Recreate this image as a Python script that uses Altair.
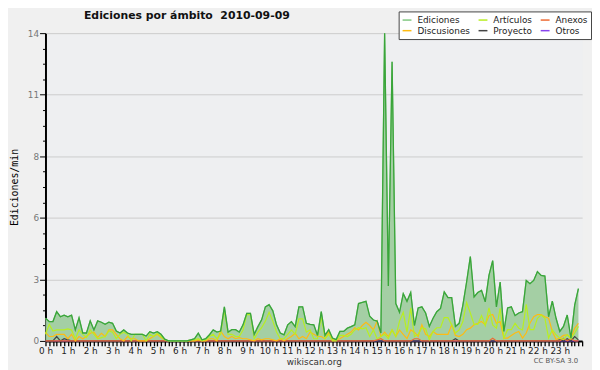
import altair as alt
import pandas as pd

# 10-minute samples, 144 per day
EDICIONES = [
    1.03, 0.88, 0.88, 1.33, 1.1, 1.17, 1.1, 1.17, 0.5, 1.05, 0.36, 0.36,
    0.91, 0.5, 0.91, 0.85, 0.76, 0.85, 0.8, 0.45, 0.36, 0.5, 0.36, 0.3,
    0.3, 0.3, 0.3, 0.22, 0.42, 0.36, 0.42, 0.3, 0.08, 0, 0, 0,
    0, 0, 0, 0.05, 0.1, 0.35, 0.05, 0.1, 0.28, 0.5, 0.4, 0.45,
    1.55, 0.4, 0.51, 0.51, 0.4, 0.73, 1.25, 1.25, 0.3, 0.65, 0.96, 1.55,
    1.65, 1.37, 0.73, 0.36, 0.28, 0.73, 0.88, 0.65, 1.55, 1.55, 0.8, 0.75,
    0.73, 0.25, 1.33, 0.25, 0.51, 0.13, 0.06, 0.43, 0.43, 0.58, 0.65, 0.73,
    1.7, 1.75, 1.8, 1.12, 0.95, 0.9, 0.36, 14.0, 2.5, 12.7, 1.7, 1.3,
    2.15, 1.8, 2.2, 0.7, 1.5, 1.55, 1.27, 0.66, 1.03, 1.33, 1.48, 2.23,
    1.97, 1.97, 0.66, 0.8, 1.63, 2.68, 3.84, 2.0, 2.2, 2.3, 1.78, 2.98,
    3.65, 1.55, 2.68, 0.43, 1.5, 1.55, 1.15, 1.27, 1.33, 2.75, 2.6, 2.75,
    3.15, 2.98, 2.95, 1.1, 1.81, 1.03, 0.43, 0.66, 1.18, 0.13, 1.63, 2.38,
]
ARTICULOS = [
    0.3, 0.75, 0.45, 0.5, 0.5, 0.5, 0.55, 0.5, 0.1, 0.5, 0.3, 0.15,
    0.5, 0.3, 0.1, 0.15, 0.2, 0.45, 0.4, 0.1, 0.3, 0.4, 0.3, 0.0,
    0.3, 0.3, 0.3, 0.0, 0.3, 0.2, 0.35, 0.2, 0.05, 0, 0, 0,
    0, 0, 0, 0.05, 0.05, 0.1, 0.0, 0.05, 0.2, 0.3, 0.1, 0.3,
    1.4, 0.3, 0.3, 0.2, 0.2, 0.5, 1.2, 1.2, 0.1, 0.4, 0.6, 0.9,
    1.3, 0.9, 0.4, 0.1, 0.1, 0.3, 0.5, 0.3, 1.0, 1.0, 0.4, 0.5,
    0.1, 0.1, 1.1, 0.1, 0.3, 0.0, 0.0, 0.25, 0.25, 0.2, 0.3, 0.5,
    0.6, 0.55, 0.6, 0.2, 0.5, 0.1, 0.2, 0.3, 0.1, 0.5, 0.2, 0.9,
    1.3, 0.4, 1.5, 0.2, 0.3, 0.6, 0.55, 0.06, 0.43, 0.6, 0.6, 1.06,
    1.06, 0.73, 0.36, 0.5, 0.88, 1.75, 1.27, 0.75, 0.75, 1.15, 0.7, 1.5,
    0.73, 0.58, 1.48, 0.13, 0.51, 0.51, 0.8, 0.58, 0.5, 1.66, 0.51, 0.51,
    1.03, 1.18, 1.03, 0.13, 0.51, 0.28, 0.13, 0.06, 0.28, 0.1, 0.36, 0.66,
]
DISCUSIONES = [
    0.4, 0.2, 0.2, 0.3, 0.3, 0.3, 0.1, 0.3, 0.0, 0.2, 0.1, 0.2,
    0.35, 0.4, 0.15, 0.35, 0.2, 0.5, 0.5, 0.3, 0.1, 0.0, 0.2, 0.1,
    0.1, 0.0, 0.0, 0.0, 0.1, 0.2, 0.3, 0.15, 0.05, 0, 0, 0,
    0, 0, 0, 0, 0, 0.05, 0, 0, 0.1, 0.1, 0, 0.45,
    0.2, 0.1, 0.2, 0.1, 0.15, 0.1, 0.1, 0.05, 0.0, 0.1, 0.05, 0.1,
    0.1, 0.05, 0.0, 0.1, 0.0, 0.1, 0.2, 0.35, 0.1, 0.2, 0.1, 0.4,
    0.3, 0.2, 0.2, 0.1, 0.4, 0.05, 0.05, 0.1, 0.2, 0.3, 0.4, 0.6,
    0.5, 0.7, 0.85, 0.7, 0.5, 0.9, 0.2, 0.4, 0.2, 0.5, 0.2, 0.5,
    0.3, 0.1, 0.5, 0.4, 0.2, 0.73, 0.3, 0.2, 0.43, 0.3, 0.3, 0.3,
    0.3, 0.73, 0.25, 0.2, 0.3, 0.51, 0.58, 0.73, 0.8, 0.88, 0.73, 1.15,
    1.2, 0.8, 0.88, 0.13, 0.13, 0.25, 0.36, 0.43, 0.13, 0.36, 0.8, 1.1,
    1.2, 1.2, 1.1, 1.03, 0.43, 0.06, 0.13, 0.25, 0.28, 0.13, 0.58, 0.8,
]
ANEXOS = [
    0, 0, 0, 0, 0, 0, 0, 0, 0, 0, 0, 0,
    0, 0, 0, 0, 0, 0, 0, 0, 0, 0, 0, 0,
    0, 0, 0, 0, 0, 0, 0, 0, 0, 0, 0, 0,
    0, 0, 0, 0, 0, 0, 0, 0, 0, 0, 0, 0,
    0, 0, 0, 0, 0, 0, 0, 0, 0, 0, 0, 0,
    0, 0, 0, 0, 0, 0, 0, 0, 0, 0, 0, 0,
    0, 0, 0, 0, 0, 0, 0, 0, 0, 0, 0, 0,
    0, 0, 0, 0, 0, 0.05, 0.1, 0, 0, 0, 0, 0,
    0, 0, 0, 0.1, 0.1, 0, 0, 0, 0, 0, 0, 0,
    0, 0, 0, 0, 0, 0, 0, 0, 0, 0, 0, 0,
    0.12, 0, 0, 0, 0, 0, 0, 0, 0, 0, 0, 0,
    0, 0, 0, 0, 0, 0, 0, 0.12, 0, 0.1, 0, 0,
]
PROYECTO = [
    0, 0, 0, 0.2, 0, 0.1, 0.05, 0, 0, 0, 0, 0,
    0, 0, 0, 0, 0, 0, 0, 0, 0, 0, 0, 0,
    0, 0, 0, 0, 0, 0, 0, 0, 0, 0, 0, 0,
    0, 0, 0, 0, 0, 0, 0, 0, 0, 0, 0, 0,
    0, 0, 0, 0, 0, 0, 0, 0, 0, 0, 0, 0,
    0, 0, 0, 0, 0, 0, 0, 0, 0, 0, 0, 0,
    0, 0, 0, 0, 0, 0, 0, 0, 0, 0, 0, 0,
    0, 0, 0, 0, 0, 0, 0, 0, 0, 0, 0, 0,
    0, 0, 0, 0, 0, 0, 0, 0, 0, 0, 0, 0,
    0, 0, 0.1, 0, 0, 0, 0, 0, 0, 0, 0, 0,
    0, 0, 0, 0, 0, 0, 0, 0, 0, 0, 0, 0,
    0, 0, 0, 0, 0, 0, 0.05, 0, 0.1, 0, 0.2, 0.05,
]
OTROS = [
    0, 0, 0, 0, 0, 0, 0, 0, 0, 0, 0, 0,
    0, 0, 0, 0, 0, 0, 0, 0, 0, 0, 0, 0,
    0, 0, 0, 0, 0, 0, 0, 0, 0, 0, 0, 0,
    0, 0, 0, 0, 0, 0, 0, 0, 0, 0, 0, 0,
    0, 0, 0, 0, 0, 0, 0, 0, 0, 0, 0, 0,
    0, 0, 0, 0, 0, 0, 0, 0, 0, 0, 0, 0,
    0, 0, 0, 0, 0, 0, 0, 0, 0, 0, 0, 0,
    0, 0, 0, 0, 0, 0, 0, 0, 0, 0, 0, 0,
    0, 0, 0, 0, 0, 0, 0, 0, 0, 0, 0, 0,
    0, 0, 0, 0, 0, 0, 0, 0, 0, 0, 0, 0,
    0, 0, 0, 0, 0, 0, 0, 0, 0, 0, 0, 0,
    0, 0, 0, 0, 0, 0, 0, 0, 0, 0, 0, 0,
]

# legend fills column by column: (Ediciones, Discusiones), (Artículos, Proyecto), (Anexos, Otros)
SERIES = ["Ediciones", "Discusiones", "Artículos", "Proyecto", "Anexos", "Otros"]
COLORS = ["#80c880", "#ffbb11", "#b8ee22", "#444444", "#ee6a33", "#8844ee"]
Y_TICKS = [0, 0.7, 1.4, 2.1, 2.8, 3.5, 4.2, 4.9, 5.6, 6.3, 7.0, 7.7, 8.4,
           9.1, 9.8, 10.5, 11.2, 11.9, 12.6, 13.3, 14.0]
X_TICKS = [i / 6 for i in range(145)]
TITLE = "Ediciones por ámbito\u00a0\u00a02010-09-09"
CREDIT = "CC BY-SA 3.0"

hours = [i / 6 for i in range(len(EDICIONES))]
values = {
    "Ediciones": EDICIONES, "Artículos": ARTICULOS, "Anexos": ANEXOS,
    "Discusiones": DISCUSIONES, "Proyecto": PROYECTO, "Otros": OTROS,
}
draw_order = ["Otros", "Proyecto", "Anexos", "Discusiones", "Artículos", "Ediciones"]
rows = []
for k, s in enumerate(draw_order):
    for h, v in zip(hours, values[s]):
        rows.append({"h": h, "v": v, "serie": s, "o": k})
long_df = pd.DataFrame(rows)
edi_df = pd.DataFrame({"h": hours, "v": EDICIONES})

major = "round(datum.value*10) % 28 == 0"
x_axis = alt.Axis(
    values=X_TICKS, title="wikiscan.org", grid=False,
    labelExpr="datum.value % 1 == 0 && datum.value < 24 ? datum.value + ' h' : ''",
    labelOverlap=False, labelFlush=False, labelFontSize=9, labelColor="#222",
    labelPadding=1, tickSize=5, tickWidth=1.3, tickColor="#000",
    domainColor="#000", domainWidth=2, titleFontSize=9, titleFontWeight="normal",
    titleColor="#333", titlePadding=2,
)
y_axis = alt.Axis(
    values=Y_TICKS, title="Ediciones/min", grid=True, gridColor="#cccccc",
    gridOpacity={"condition": {"test": major, "value": 1}, "value": 0},
    tickSize={"condition": {"test": major, "value": 6}, "value": 3},
    labelExpr=f"{major} ? '' + round(datum.value) : ''",
    labelFontSize=9, labelColor="#777", labelPadding=1,
    tickColor="#000", tickWidth=1, domainColor="#000", domainWidth=2,
    titleFont="DejaVu Sans Mono", titleFontSize=10, titleFontWeight="normal",
    titleColor="#000", titleX=-31, titleY=156, titleBaseline="middle",
)
xs = alt.Scale(domain=[0, 24], nice=False, zero=False)
ys = alt.Scale(domain=[0, 14], nice=False)
X = alt.X("h:Q", scale=xs, axis=x_axis)
Y = alt.Y("v:Q", scale=ys, axis=y_axis)

area = alt.Chart(edi_df).mark_area(color="#9fcc9f", opacity=0.95).encode(x=X, y=Y)
lines = alt.Chart(long_df).mark_line(strokeWidth=1.2).encode(
    x=X, y=Y,
    order=alt.Order("o:Q"),
    color=alt.Color("serie:N", scale=alt.Scale(domain=SERIES, range=COLORS),
                    legend=alt.Legend(
                        title=None, orient="none", legendX=358, legendY=-22,
                        columns=3, symbolType="stroke", symbolSize=81,
                        symbolStrokeWidth=1.5, labelFontSize=9,
                        labelFont="DejaVu Sans", labelColor="#222",
                        fillColor="white", strokeColor="#444", padding=3,
                        rowPadding=0, columnPadding=5, labelLimit=0,
                        labelOffset=5)),
)
edi_line = alt.Chart(edi_df).mark_line(color="#3aa53a", strokeWidth=1.3).encode(x=X, y=Y)
title = alt.Chart(pd.DataFrame({"t": [TITLE]})).mark_text(
    align="left", baseline="middle", fontSize=11, fontWeight="bold",
    color="#111", font="DejaVu Sans"
).encode(text="t:N", x=alt.value(39), y=alt.value(-17))
cc = alt.Chart(pd.DataFrame({"t": [CREDIT]})).mark_text(
    align="right", baseline="middle", fontSize=7, color="#555", font="DejaVu Sans"
).encode(text="t:N", x=alt.value(540), y=alt.value(332))

chart = alt.layer(area, lines, edi_line, title, cc).properties(
    width=544, height=312,
    autosize=alt.AutoSizeParams(type="none"),
    padding={"left": 38, "top": 23, "right": 10, "bottom": 27},
).configure(
    background="#f0f0f0", font="DejaVu Sans",
).configure_view(fill="#eeeff1", stroke="transparent")

chart.save("out.html", embed_options={"renderer": "svg", "actions": False})
